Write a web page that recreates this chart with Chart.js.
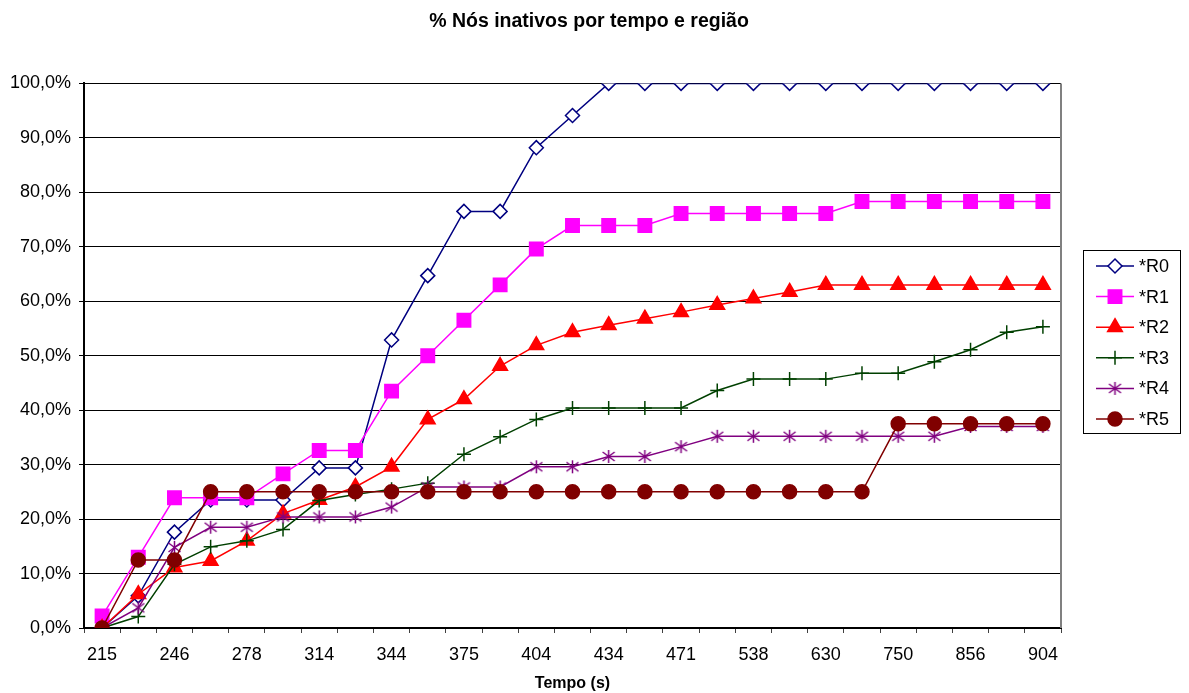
<!DOCTYPE html>
<html>
<head>
<meta charset="utf-8">
<script src="https://cdn.jsdelivr.net/npm/chart.js@4.4.1/dist/chart.umd.min.js"></script>
<style>
  html, body { margin: 0; padding: 0; background: #fff; }
  #wrap { width: 1189px; height: 693px; }
</style>
</head>
<body>
<div id="wrap"><canvas id="grafico" width="1189" height="693"></canvas></div>
<script>
// tempos (s) - so metade das categorias tem rotulo no grafico original
const tempos = ['215', '', '246', '', '278', '', '314', '', '344', '', '375', '', '404', '', '434', '', '471', '', '538', '', '630', '', '750', '', '856', '', '904']

// % de nos inativos por regiao
const r0 = [0, 5.9, 17.6, 23.5, 23.5, 23.5, 29.4, 29.4, 52.9, 64.7, 76.5, 76.5, 88.2, 94.1, 100, 100, 100, 100, 100, 100, 100, 100, 100, 100, 100, 100, 100]
const r1 = [2.2, 13.0, 23.9, 23.9, 23.9, 28.3, 32.6, 32.6, 43.5, 50.0, 56.5, 63.0, 69.6, 73.9, 73.9, 73.9, 76.1, 76.1, 76.1, 76.1, 76.1, 78.3, 78.3, 78.3, 78.3, 78.3, 78.3]
const r2 = [0, 6.2, 11.1, 12.3, 16.0, 21.0, 23.5, 25.9, 29.6, 38.3, 42.0, 48.1, 51.9, 54.3, 55.6, 56.8, 58.0, 59.3, 60.5, 61.7, 63.0, 63.0, 63.0, 63.0, 63.0, 63.0, 63.0]
const r3 = [0, 2.1, 11.7, 14.9, 16.0, 18.1, 23.4, 24.5, 25.5, 26.6, 31.9, 35.1, 38.3, 40.4, 40.4, 40.4, 40.4, 43.6, 45.7, 45.7, 45.7, 46.8, 46.8, 48.9, 51.1, 54.3, 55.3]
const r4 = [0, 3.7, 14.8, 18.5, 18.5, 20.4, 20.4, 20.4, 22.2, 25.9, 25.9, 25.9, 29.6, 29.6, 31.5, 31.5, 33.3, 35.2, 35.2, 35.2, 35.2, 35.2, 35.2, 35.2, 37.0, 37.0, 37.0]
const r5 = [0, 12.5, 12.5, 25, 25, 25, 25, 25, 25, 25, 25, 25, 25, 25, 25, 25, 25, 25, 25, 25, 25, 25, 37.5, 37.5, 37.5, 37.5, 37.5]

const nomes = ['*R0', '*R1', '*R2', '*R3', '*R4', '*R5']
const cores = ['#000080', '#FF00FF', '#FF0000', '#004000', '#800080', '#800000']

const fonte = "'Liberation Sans', Arial, sans-serif"

// asterisco estilo excel (vertical + X)
function asterisco(cor) {
  const c = document.createElement('canvas')
  c.width = 15
  c.height = 15
  const g = c.getContext('2d')
  g.strokeStyle = cor
  g.lineWidth = 1.5
  g.beginPath()
  g.moveTo(7.5, 1); g.lineTo(7.5, 14)
  g.moveTo(1.5, 3); g.lineTo(13.5, 12)
  g.moveTo(1.5, 12); g.lineTo(13.5, 3)
  g.stroke()
  return c
}

const marcadores = [
  {style: 'rectRot', radius: 7, fill: '#FFFFFF'},
  {style: 'rect', radius: 9.5, fill: cores[1]},
  {style: 'triangle', radius: 8.5, fill: cores[2]},
  {style: 'cross', radius: 7, fill: cores[3]},
  {style: asterisco(cores[4]), radius: 7.5, fill: cores[4]},
  {style: 'circle', radius: 7, fill: cores[5]}
]

const series = [r0, r1, r2, r3, r4, r5]

const datasets = series.map((valores, i) => ({
  label: nomes[i],
  data: valores,
  borderColor: cores[i],
  borderWidth: 1.5,
  backgroundColor: marcadores[i].fill,
  pointStyle: marcadores[i].style,
  pointRadius: marcadores[i].radius,
  pointBorderColor: cores[i],
  pointBackgroundColor: marcadores[i].fill,
  pointBorderWidth: 1.5,
  tension: 0,
  fill: false,
  order: 5 - i
}))

// legenda com caixa, como no excel
const legendaCaixa = {
  id: 'legendaCaixa',
  afterDraw(chart) {
    const ctx = chart.ctx
    const area = chart.chartArea
    ctx.save()
    // borda direita cinza da area de plotagem
    ctx.strokeStyle = '#808080'
    ctx.lineWidth = 2
    ctx.beginPath()
    ctx.moveTo(area.right, area.top)
    ctx.lineTo(area.right, area.bottom)
    ctx.stroke()

    const bx = 1083.5, by = 250.5, bw = 97, bh = 183
    ctx.strokeStyle = '#000'
    ctx.lineWidth = 1
    ctx.strokeRect(bx, by, bw, bh)

    ctx.font = '18px ' + fonte
    ctx.textBaseline = 'middle'
    ctx.textAlign = 'left'
    nomes.forEach((nome, i) => {
      const y = 266 + i * 30.6
      ctx.strokeStyle = cores[i]
      ctx.lineWidth = 1.5
      ctx.beginPath()
      ctx.moveTo(1096, y)
      ctx.lineTo(1134, y)
      ctx.stroke()
      ctx.fillStyle = marcadores[i].fill
      ctx.strokeStyle = cores[i]
      Chart.helpers.drawPoint(ctx, {
        pointStyle: marcadores[i].style,
        radius: marcadores[i].radius,
        rotation: 0,
        borderWidth: 1.5
      }, 1115, y)
      ctx.fillStyle = '#000'
      ctx.fillText(nome, 1139, y + 1)
    })
    ctx.restore()
  }
}

const grafico = new Chart(document.getElementById('grafico'), {
  type: 'line',
  data: {
    labels: tempos,
    datasets: datasets
  },
  options: {
    responsive: false,
    animation: false,
    layout: {padding: {left: 0, right: 11, top: 0, bottom: 0}},
    plugins: {
      legend: {display: false},
      tooltip: {enabled: false},
      title: {
        display: true,
        text: '% Nós inativos por tempo e região',
        color: '#000',
        font: {family: fonte, size: 19.5, weight: 'bold'},
        padding: {top: 10, bottom: 50}
      }
    },
    scales: {
      x: {
        offset: true,
        grid: {offset: true, drawOnChartArea: false, drawTicks: true, tickLength: 5, color: '#404040'},
        border: {color: '#000', width: 2},
        ticks: {
          autoSkip: false,
          maxRotation: 0,
          color: '#000',
          padding: 11,
          font: {family: fonte, size: 18}
        },
        title: {
          display: true,
          text: 'Tempo (s)',
          color: '#000',
          font: {family: fonte, size: 16, weight: 'bold'},
          padding: {top: 0, bottom: 0}
        },
        afterFit: (s) => { s.height = 65 }
      },
      y: {
        min: 0,
        max: 100,
        grid: {color: '#000', lineWidth: 1, tickLength: 5, drawTicks: true},
        border: {color: '#000', width: 2},
        ticks: {
          stepSize: 10,
          color: '#000',
          padding: 8,
          font: {family: fonte, size: 18},
          callback: (v) => v.toFixed(1).replace('.', ',') + '%'
        },
        afterFit: (s) => { s.width = 84 }
      },
      // espaco reservado para a legenda a direita
      espaco: {
        position: 'right',
        display: true,
        grid: {drawOnChartArea: false, drawTicks: false},
        border: {display: false},
        ticks: {display: false},
        afterFit: (s) => { s.width = 117 }
      }
    }
  },
  plugins: [legendaCaixa]
})
</script>
</body>
</html>
